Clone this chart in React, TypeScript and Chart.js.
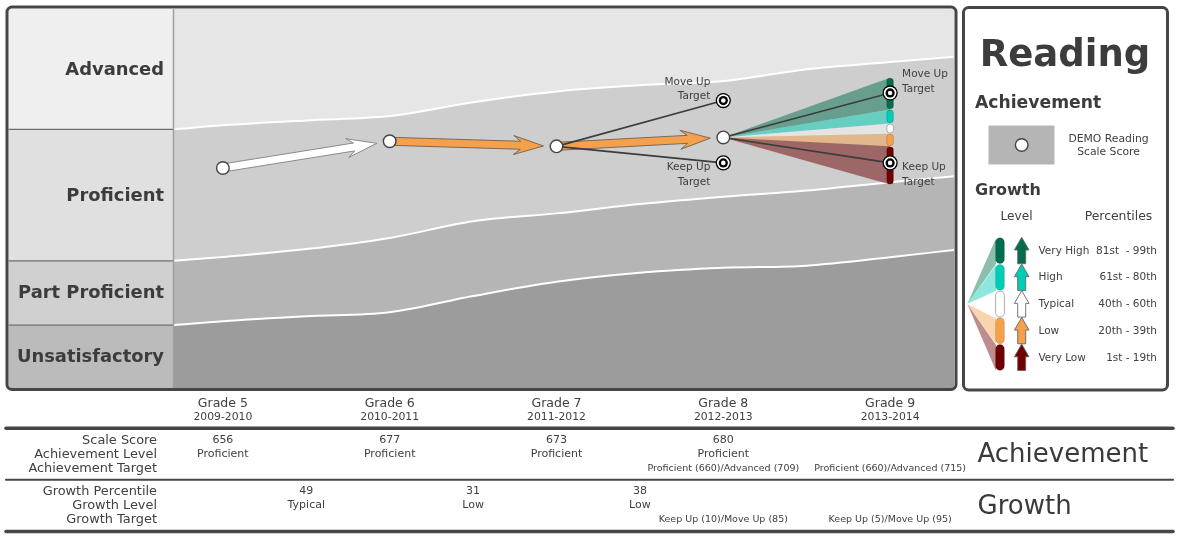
import React, { useEffect, useRef } from 'react';
import { Chart, registerables } from 'chart.js';

Chart.register(...registerables);

const W = 1181;
const H = 539;

// ---------- data ----------
const grades = [5, 6, 7, 8, 9];
const gradeLabels = ['Grade 5', 'Grade 6', 'Grade 7', 'Grade 8', 'Grade 9'];
const schoolYears = ['2009-2010', '2010-2011', '2011-2012', '2012-2013', '2013-2014'];
const scaleScores = [656, 677, 673, 680];
const achievementLevels = ['Proficient', 'Proficient', 'Proficient', 'Proficient'];
const achievementTargets = ['', '', '', 'Proficient (660)/Advanced (709)', 'Proficient (660)/Advanced (715)'];
const growthPercentiles = [49, 31, 38];
const growthLevels = ['Typical', 'Low', 'Low'];
const growthTargets = ['', '', '', 'Keep Up (10)/Move Up (85)', 'Keep Up (5)/Move Up (95)'];
const targetGrades = [8, 9];
const moveUpTargets = [709, 715];
const keepUpTargets = [660, 660];
// projected grade 9 scores at the 99th/81st/61st/40th/20th/1st percentiles
const projectionCuts = [727, 702, 691, 683, 673, 643];

const levelNames = ['Advanced', 'Proficient', 'Part Proficient', 'Unsatisfactory'];
const cutX = [4.707, 5, 5.5, 6, 6.5, 7, 7.5, 8, 8.5, 9, 9.383];
const advancedCut = [686.4, 689.5, 693.4, 696.8, 707.7, 716.2, 721, 724.3, 733.7, 739.3, 743.5];
const proficientCut = [583, 586, 592.2, 601, 614.1, 620.3, 627.6, 633.4, 638.2, 644.8, 649.4];
const partProficientCut = [532.4, 535.5, 539.4, 542.6, 555.3, 566.5, 573.6, 577.5, 579.2, 585.8, 591.6];
const scoreMin = 483;
const scoreMax = 781;

const growthLevelNames = ['Very High', 'High', 'Typical', 'Low', 'Very Low'];
const growthPercentileRanges = ['81st  - 99th', '61st - 80th', '40th - 60th', '20th - 39th', '1st - 19th'];
const growthColors = ['#006e4e', '#00cdb5', '#ffffff', '#f5a04a', '#6e0000'];

const rowLabels = ['Scale Score', 'Achievement Level', 'Achievement Target', 'Growth Percentile', 'Growth Level', 'Growth Target'];

// ---------- style ----------
const FONT = "'DejaVu Sans', Verdana, sans-serif";
const TXT = '#404040';
const BORDER = '#464646';
const bandColors = ['#e6e6e6', '#cecece', '#b5b5b5', '#9c9c9c'];
const labelColors = ['#efefef', '#e0e0e0', '#d0d0d0', '#bbbbbb'];

function rr(ctx: CanvasRenderingContext2D, x: number, y: number, w: number, h: number, r: number) {
  ctx.beginPath();
  ctx.moveTo(x + r, y);
  ctx.lineTo(x + w - r, y);
  ctx.arcTo(x + w, y, x + w, y + r, r);
  ctx.lineTo(x + w, y + h - r);
  ctx.arcTo(x + w, y + h, x + w - r, y + h, r);
  ctx.lineTo(x + r, y + h);
  ctx.arcTo(x, y + h, x, y + h - r, r);
  ctx.lineTo(x, y + r);
  ctx.arcTo(x, y, x + r, y, r);
  ctx.closePath();
}

function text(ctx: CanvasRenderingContext2D, s: string, x: number, y: number, font: string, align: CanvasTextAlign = 'center', color = TXT) {
  ctx.font = font;
  ctx.textAlign = align;
  ctx.textBaseline = 'middle';
  ctx.fillStyle = color;
  ctx.fillText(s, x, y);
}

function drawArrow(ctx: CanvasRenderingContext2D, x0: number, y0: number, x1: number, y1: number, fill: string, stroke: string) {
  const dx = x1 - x0, dy = y1 - y0;
  const len = Math.hypot(dx, dy);
  const ux = dx / len, uy = dy / len, nx = -uy, ny = ux;
  const gap = 13;
  const tx = x1 - gap * ux, ty = y1 - gap * uy;
  const total = len - gap;
  const L = 30, HW = 9.5, SW = 4, J = 23;
  const P = (a: number, b: number): [number, number] => [tx - a * ux + b * nx, ty - a * uy + b * ny];
  const pts = [P(total, SW), P(J, SW), P(L, HW), P(0, 0), P(L, -HW), P(J, -SW), P(total, -SW)];
  ctx.beginPath();
  pts.forEach((p, i) => (i ? ctx.lineTo(p[0], p[1]) : ctx.moveTo(p[0], p[1])));
  ctx.closePath();
  ctx.fillStyle = fill;
  ctx.fill();
  ctx.strokeStyle = stroke;
  ctx.lineWidth = 1;
  ctx.lineJoin = 'miter';
  ctx.stroke();
}

function drawUpArrow(ctx: CanvasRenderingContext2D, cx: number, top: number, bottom: number, fill: string) {
  const SW = 4, HW = 7.3, HL = 12.7;
  ctx.beginPath();
  ctx.moveTo(cx - SW, bottom);
  ctx.lineTo(cx - SW, top + HL);
  ctx.lineTo(cx - HW, top + HL);
  ctx.lineTo(cx, top);
  ctx.lineTo(cx + HW, top + HL);
  ctx.lineTo(cx + SW, top + HL);
  ctx.lineTo(cx + SW, bottom);
  ctx.closePath();
  ctx.fillStyle = fill;
  ctx.fill();
  ctx.strokeStyle = '#666';
  ctx.lineWidth = 0.9;
  ctx.stroke();
}

function drawCircle(ctx: CanvasRenderingContext2D, x: number, y: number) {
  ctx.beginPath();
  ctx.arc(x, y, 6.3, 0, Math.PI * 2);
  ctx.fillStyle = '#fff';
  ctx.fill();
  ctx.strokeStyle = '#444';
  ctx.lineWidth = 1.4;
  ctx.stroke();
}

function drawTarget(ctx: CanvasRenderingContext2D, x: number, y: number) {
  const rings: [number, string][] = [[7.6, '#000'], [6.3, '#fff'], [4.6, '#000'], [2.3, '#fff']];
  rings.forEach(([r, c]) => {
    ctx.beginPath();
    ctx.arc(x, y, r, 0, Math.PI * 2);
    ctx.fillStyle = c;
    ctx.fill();
  });
}

function withAlpha(hex: string, a: number) {
  const n = parseInt(hex.slice(1), 16);
  return `rgba(${(n >> 16) & 255},${(n >> 8) & 255},${n & 255},${a})`;
}

const decorPlugin = {
  id: 'growthDecor',
  beforeDraw(chart: any) {
    const { ctx, chartArea: ca, scales } = chart;
    const y = scales.y;
    ctx.save();
    ctx.fillStyle = '#fff';
    ctx.fillRect(0, 0, W, H);
    ctx.fillStyle = bandColors[0];
    ctx.fillRect(ca.left, ca.top, ca.right - ca.left, ca.bottom - ca.top);
    // left level label column
    const b = [ca.top, y.getPixelForValue(advancedCut[0]), y.getPixelForValue(proficientCut[0]), y.getPixelForValue(partProficientCut[0]), ca.bottom];
    const left = 8.5;
    for (let i = 0; i < 4; i++) {
      ctx.fillStyle = labelColors[i];
      ctx.fillRect(left, b[i], ca.left - left, b[i + 1] - b[i]);
    }
    ctx.strokeStyle = '#6e6e6e';
    ctx.lineWidth = 1.2;
    for (let i = 1; i < 4; i++) {
      ctx.beginPath();
      ctx.moveTo(left, b[i]);
      ctx.lineTo(ca.left, b[i]);
      ctx.stroke();
    }
    for (let i = 0; i < 4; i++) {
      text(ctx, levelNames[i], ca.left - 10, (b[i] + b[i + 1]) / 2 + 0.8, `bold 17.9px ${FONT}`, 'right', '#3c3c3c');
    }
    ctx.restore();
  },
  afterDatasetsDraw(chart: any) {
    const { ctx, chartArea: ca, scales } = chart;
    const x = scales.x, y = scales.y;
    ctx.save();
    ctx.beginPath();
    ctx.rect(ca.left, ca.top, ca.right - ca.left, ca.bottom - ca.top);
    ctx.clip();

    const pts = scaleScores.map((s, i) => [x.getPixelForValue(grades[i]), y.getPixelForValue(s)]);

    // growth arrows
    for (let i = 0; i < growthLevels.length; i++) {
      const c = growthColors[growthLevelNames.indexOf(growthLevels[i])];
      drawArrow(ctx, pts[i][0], pts[i][1], pts[i + 1][0], pts[i + 1][1], c, c === '#ffffff' ? '#8a8a8a' : '#7a6a5a');
    }

    // projection fan to grade 9
    const last = pts[pts.length - 1];
    const fx = x.getPixelForValue(grades[4]);
    for (let i = 0; i < growthColors.length; i++) {
      const y0 = y.getPixelForValue(projectionCuts[i]);
      const y1 = y.getPixelForValue(projectionCuts[i + 1]);
      ctx.beginPath();
      ctx.moveTo(last[0], last[1]);
      ctx.lineTo(fx, y0);
      ctx.lineTo(fx, y1);
      ctx.closePath();
      ctx.fillStyle = growthColors[i] === '#ffffff' ? 'rgba(255,255,255,0.45)' : withAlpha(growthColors[i], 0.5);
      ctx.fill();
    }

    // target lines
    ctx.strokeStyle = '#3c3c3c';
    ctx.lineWidth = 1.6;
    targetGrades.forEach((g, k) => {
      const from = pts[grades.indexOf(g) - 1];
      const tx = x.getPixelForValue(g);
      [moveUpTargets[k], keepUpTargets[k]].forEach((s) => {
        ctx.beginPath();
        ctx.moveTo(from[0], from[1]);
        ctx.lineTo(tx, y.getPixelForValue(s));
        ctx.stroke();
      });
    });

    // fan bars
    for (let i = 0; i < growthColors.length; i++) {
      const y0 = y.getPixelForValue(projectionCuts[i]);
      const y1 = y.getPixelForValue(projectionCuts[i + 1]);
      rr(ctx, fx - 3.3, y0 + 0.6, 6.6, y1 - y0 - 1.2, 3);
      ctx.fillStyle = growthColors[i];
      ctx.fill();
      ctx.strokeStyle = growthColors[i] === '#ffffff' ? '#9a9a9a' : 'rgba(0,0,0,0.2)';
      ctx.lineWidth = 0.8;
      ctx.stroke();
    }

    // targets + labels
    targetGrades.forEach((g, k) => {
      const tx = x.getPixelForValue(g);
      const my = y.getPixelForValue(moveUpTargets[k]);
      const ky = y.getPixelForValue(keepUpTargets[k]);
      drawTarget(ctx, tx, my);
      drawTarget(ctx, tx, ky);
      const onRight = k === targetGrades.length - 1;
      const lx = onRight ? tx + 12 : tx - 13;
      const al: CanvasTextAlign = onRight ? 'left' : 'right';
      const f = `10.5px ${FONT}`;
      text(ctx, 'Move Up', lx, my - 18.4, f, al);
      text(ctx, 'Target', lx, my - 4, f, al);
      text(ctx, 'Keep Up', lx, ky + 4.4, f, al);
      text(ctx, 'Target', lx, ky + 19.2, f, al);
    });

    // achievement points
    pts.forEach((p) => drawCircle(ctx, p[0], p[1]));
    ctx.restore();
  },
  afterDraw(chart: any) {
    const { ctx, chartArea: ca, scales } = chart;
    const x = scales.x;
    ctx.save();
    // separator between labels and plot
    ctx.strokeStyle = '#a0a0a0';
    ctx.lineWidth = 1.5;
    ctx.beginPath();
    ctx.moveTo(ca.left - 0.5, ca.top);
    ctx.lineTo(ca.left - 0.5, ca.bottom);
    ctx.stroke();

    // main panel border
    ctx.strokeStyle = BORDER;
    ctx.lineWidth = 3;
    rr(ctx, 7, 7, 949, 382.5, 5);
    ctx.stroke();

    // legend panel
    rr(ctx, 963.5, 7.5, 204, 382.5, 5);
    ctx.fillStyle = '#fff';
    ctx.fill();
    ctx.stroke();

    text(ctx, 'Reading', 1065, 56, `bold 37px ${FONT}`, 'center', '#3c3c3c');
    text(ctx, 'Achievement', 975, 104, `bold 17.2px ${FONT}`, 'left', '#3c3c3c');
    ctx.fillStyle = '#b5b5b5';
    ctx.fillRect(988.5, 125.5, 66, 39);
    drawCircle(ctx, 1021.7, 145);
    text(ctx, 'DEMO Reading', 1108.5, 139.5, `10.8px ${FONT}`);
    text(ctx, 'Scale Score', 1108.5, 152.5, `10.8px ${FONT}`);
    text(ctx, 'Growth', 975, 191, `bold 16px ${FONT}`, 'left', '#3c3c3c');
    text(ctx, 'Level', 1016.5, 216.5, `12.2px ${FONT}`);
    text(ctx, 'Percentiles', 1118.5, 216.5, `12.4px ${FONT}`);

    const rowTop = 237.3, rowH = 26.7, apexX = 967.3, apexY = 304, pillX = 1000;
    for (let i = 0; i < 5; i++) {
      const t = rowTop + i * rowH, bt = t + rowH;
      ctx.beginPath();
      ctx.moveTo(apexX, apexY);
      ctx.lineTo(pillX - 4, t + 1);
      ctx.lineTo(pillX - 4, bt);
      ctx.closePath();
      ctx.fillStyle = growthColors[i] === '#ffffff' ? '#ffffff' : withAlpha(growthColors[i], 0.45);
      ctx.fill();
    }
    for (let i = 0; i < 5; i++) {
      const t = rowTop + i * rowH;
      rr(ctx, pillX - 4.4, t + 0.4, 8.8, rowH - 0.8, 4.4);
      ctx.fillStyle = growthColors[i];
      ctx.fill();
      ctx.strokeStyle = growthColors[i] === '#ffffff' ? '#999' : 'rgba(0,0,0,0.15)';
      ctx.lineWidth = 0.8;
      ctx.stroke();
      drawUpArrow(ctx, 1021.7, t, t + rowH - 0.3, growthColors[i]);
      text(ctx, growthLevelNames[i], 1038.5, t + 13.7, `10.5px ${FONT}`, 'left');
      text(ctx, growthPercentileRanges[i], 1157, t + 13.7, `10.5px ${FONT}`, 'right');
    }

    // grade headers
    grades.forEach((g, i) => {
      const px = x.getPixelForValue(g);
      text(ctx, gradeLabels[i], px, 403.5, `12.5px ${FONT}`);
      text(ctx, schoolYears[i], px, 417.5, `10.8px ${FONT}`);
    });

    // table lines
    ctx.strokeStyle = BORDER;
    ctx.lineCap = 'round';
    [[428.3, 3.5], [479.7, 2], [531.5, 3.5]].forEach(([ly, lw]) => {
      ctx.lineWidth = lw;
      ctx.beginPath();
      ctx.moveTo(6, ly);
      ctx.lineTo(1173, ly);
      ctx.stroke();
    });

    const rowY = [440.5, 454.5, 468.5, 491.5, 505.5, 519.5];
    rowLabels.forEach((l, i) => text(ctx, l, 157, rowY[i], `12.9px ${FONT}`, 'right'));

    scaleScores.forEach((s, i) => {
      const px = x.getPixelForValue(grades[i]);
      text(ctx, String(s), px, rowY[0], `11px ${FONT}`);
      text(ctx, achievementLevels[i], px, rowY[1], `11px ${FONT}`);
    });
    achievementTargets.forEach((t, i) => {
      if (t) text(ctx, t, x.getPixelForValue(grades[i]), rowY[2], `9.5px ${FONT}`);
    });
    growthPercentiles.forEach((p, i) => {
      const px = x.getPixelForValue(grades[i + 1] - 0.5);
      text(ctx, String(p), px, rowY[3], `11px ${FONT}`);
      text(ctx, growthLevels[i], px, rowY[4], `11px ${FONT}`);
    });
    growthTargets.forEach((t, i) => {
      if (t) text(ctx, t, x.getPixelForValue(grades[i]), rowY[5] + 0.5, `9.5px ${FONT}`);
    });

    text(ctx, 'Achievement', 977.5, 455, `26px ${FONT}`, 'left', '#3a3a3a');
    text(ctx, 'Growth', 977.5, 507, `26px ${FONT}`, 'left', '#3a3a3a');
    ctx.restore();
  },
};

export default function App() {
  const ref = useRef<HTMLCanvasElement>(null);
  useEffect(() => {
    if (!ref.current) return;
    const mk = (vals: number[]) => cutX.map((v, i) => ({ x: v, y: vals[i] }));
    const common = {
      borderColor: '#ffffff',
      borderWidth: 2,
      pointRadius: 0,
      cubicInterpolationMode: 'monotone' as const,
    };
    const chart = new Chart(ref.current, {
      type: 'line',
      data: {
        datasets: [
          { ...common, label: 'Advanced cut', data: mk(advancedCut), fill: '+1', backgroundColor: bandColors[1] },
          { ...common, label: 'Proficient cut', data: mk(proficientCut), fill: '+1', backgroundColor: bandColors[2] },
          { ...common, label: 'Part Proficient cut', data: mk(partProficientCut), fill: 'start', backgroundColor: bandColors[3] },
        ],
      },
      options: {
        responsive: false,
        animation: false,
        events: [],
        layout: { padding: { left: 174, top: 9, right: W - 954, bottom: H - 388 } },
        scales: {
          x: { type: 'linear', min: cutX[0], max: cutX[cutX.length - 1], display: false },
          y: { type: 'linear', min: scoreMin, max: scoreMax, display: false },
        },
        plugins: {
          legend: { display: false },
          tooltip: { enabled: false },
          filler: { drawTime: 'beforeDatasetsDraw' },
        } as any,
      },
      plugins: [decorPlugin],
    });
    return () => chart.destroy();
  }, []);
  return (
    <div style={{ position: 'absolute', left: 0, top: 0, width: W, height: H, background: '#fff' }}>
      <canvas ref={ref} width={W} height={H} style={{ display: 'block' }} />
    </div>
  );
}
